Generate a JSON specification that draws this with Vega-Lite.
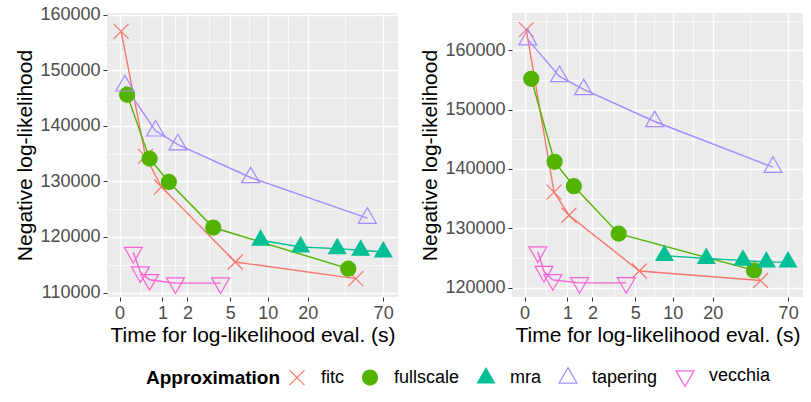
{
  "$schema": "https://vega.github.io/schema/vega-lite/v6.json",
  "background": "white",
  "padding": {"left": 14, "top": 5, "right": 5, "bottom": 5},
  "spacing": 21,
  "data": {"values": [
    {"p": "a", "a": "fitc", "t": 0.026, "y": 157000},
    {"p": "a", "a": "fitc", "t": 0.52, "y": 134500},
    {"p": "a", "a": "fitc", "t": 0.97, "y": 129000},
    {"p": "a", "a": "fitc", "t": 5.5, "y": 115500},
    {"p": "a", "a": "fitc", "t": 44.6, "y": 112500},
    {"p": "a", "a": "fullscale", "t": 0.13, "y": 145600},
    {"p": "a", "a": "fullscale", "t": 0.625, "y": 134100},
    {"p": "a", "a": "fullscale", "t": 1.22, "y": 129900},
    {"p": "a", "a": "fullscale", "t": 3.55, "y": 121700},
    {"p": "a", "a": "fullscale", "t": 39.4, "y": 114300},
    {"p": "a", "a": "mra", "t": 8.8, "y": 119400},
    {"p": "a", "a": "mra", "t": 17.7, "y": 118200},
    {"p": "a", "a": "mra", "t": 32.8, "y": 117900},
    {"p": "a", "a": "mra", "t": 48.4, "y": 117600},
    {"p": "a", "a": "mra", "t": 70.2, "y": 117300},
    {"p": "a", "a": "tapering", "t": 0.09, "y": 147200},
    {"p": "a", "a": "tapering", "t": 0.79, "y": 139100},
    {"p": "a", "a": "tapering", "t": 1.57, "y": 136600},
    {"p": "a", "a": "tapering", "t": 7.33, "y": 130700},
    {"p": "a", "a": "tapering", "t": 54, "y": 123400},
    {"p": "a", "a": "vecchia", "t": 0.25, "y": 117200},
    {"p": "a", "a": "vecchia", "t": 0.4, "y": 113700},
    {"p": "a", "a": "vecchia", "t": 0.625, "y": 112300},
    {"p": "a", "a": "vecchia", "t": 1.47, "y": 111700},
    {"p": "a", "a": "vecchia", "t": 4.12, "y": 111700},
    {"p": "b", "a": "fitc", "t": 0.028, "y": 163500},
    {"p": "b", "a": "fitc", "t": 0.61, "y": 136100},
    {"p": "b", "a": "fitc", "t": 1.05, "y": 132200},
    {"p": "b", "a": "fitc", "t": 5.4, "y": 122800},
    {"p": "b", "a": "fitc", "t": 44.5, "y": 121200},
    {"p": "b", "a": "fullscale", "t": 0.114, "y": 155200},
    {"p": "b", "a": "fullscale", "t": 0.625, "y": 141200},
    {"p": "b", "a": "fullscale", "t": 1.22, "y": 137100},
    {"p": "b", "a": "fullscale", "t": 3.58, "y": 129100},
    {"p": "b", "a": "fullscale", "t": 39.9, "y": 122900},
    {"p": "b", "a": "mra", "t": 8.6, "y": 125400},
    {"p": "b", "a": "mra", "t": 17.9, "y": 124900},
    {"p": "b", "a": "mra", "t": 33.2, "y": 124600},
    {"p": "b", "a": "mra", "t": 48.9, "y": 124300},
    {"p": "b", "a": "mra", "t": 69.9, "y": 124300},
    {"p": "b", "a": "tapering", "t": 0.055, "y": 161800},
    {"p": "b", "a": "tapering", "t": 0.76, "y": 155600},
    {"p": "b", "a": "tapering", "t": 1.6, "y": 153400},
    {"p": "b", "a": "tapering", "t": 7.2, "y": 148000},
    {"p": "b", "a": "tapering", "t": 54.6, "y": 140300},
    {"p": "b", "a": "vecchia", "t": 0.24, "y": 126000},
    {"p": "b", "a": "vecchia", "t": 0.37, "y": 122700},
    {"p": "b", "a": "vecchia", "t": 0.58, "y": 121300},
    {"p": "b", "a": "vecchia", "t": 1.435, "y": 120800},
    {"p": "b", "a": "vecchia", "t": 4.18, "y": 120800}
  ]},
  "hconcat": [
    {
      "width": 291, "height": 284,
      "transform": [{"filter": "datum.p === 'a'"}],
      "layer": [
        {
          "mark": {"type": "line", "strokeWidth": 1.4},
          "encoding": {
            "x": {"field": "t", "type": "quantitative",
              "scale": {"type": "symlog", "constant": 1, "domain": [-0.225, 89.3], "nice": false, "zero": false},
              "axis": {"orient": "top", "values": [0.414, 1.449, 3.243, 7.125, 14.2, 37.6], "grid": true, "gridWidth": 0.7, "labels": false, "ticks": false, "domain": false, "title": null}},
            "y": {"field": "y", "type": "quantitative",
              "scale": {"domain": [109200, 160300], "nice": false, "zero": false},
              "axis": {"orient": "right", "values": [115000, 125000, 135000, 145000, 155000], "grid": true, "gridWidth": 0.7, "labels": false, "ticks": false, "domain": false, "title": null}},
            "color": {"field": "a", "type": "nominal",
              "scale": {"domain": ["fitc", "fullscale", "mra", "tapering", "vecchia"], "range": ["#F8766D", "#53B400", "#00C094", "#A58AFF", "#FB61D7"]},
              "legend": {"title": "Approximation", "orient": "none", "legendX": 39, "legendY": 354, "direction": "horizontal", "titleOrient": "left"}}
          }
        },
        {
          "mark": {"type": "point", "filled": false, "opacity": 1, "strokeWidth": 1.2, "size": 225},
          "encoding": {
            "x": {"field": "t", "type": "quantitative",
              "scale": {"type": "symlog", "constant": 1, "domain": [-0.225, 89.3], "nice": false, "zero": false},
              "axis": {"values": [0, 1, 2, 5, 10, 20, 70], "format": "d", "grid": true, "title": "Time for log-likelihood eval. (s)", "titlePadding": 2}},
            "y": {"field": "y", "type": "quantitative",
              "scale": {"domain": [109200, 160300], "nice": false, "zero": false},
              "axis": {"values": [110000, 120000, 130000, 140000, 150000, 160000], "format": "d", "grid": true, "title": "Negative log-likelihood"}},
            "color": {"field": "a", "type": "nominal",
              "scale": {"domain": ["fitc", "fullscale", "mra", "tapering", "vecchia"], "range": ["#F8766D", "#53B400", "#00C094", "#A58AFF", "#FB61D7"]},
              "legend": {"title": "Approximation", "orient": "none", "legendX": 39, "legendY": 354, "direction": "horizontal", "titleOrient": "left"}},
            "shape": {"field": "a", "type": "nominal",
              "scale": {"domain": ["fitc", "fullscale", "mra", "tapering", "vecchia"], "range": ["M-1,-1L1,1M-1,1L1,-1", "M-1,0A1,1,0,1,1,1,0A1,1,0,1,1,-1,0Z", "M0,-1.309L1.133,0.654L-1.133,0.654Z", "M0,-1.386L1.2,0.693L-1.2,0.693Z", "M0,1.386L1.2,-0.693L-1.2,-0.693Z"]},
              "legend": {"title": "Approximation", "orient": "none", "legendX": 39, "legendY": 354, "direction": "horizontal", "titleOrient": "left"}},
            "fill": {"field": "a", "type": "nominal",
              "scale": {"domain": ["fitc", "fullscale", "mra", "tapering", "vecchia"], "range": ["transparent", "#53B400", "#00C094", "transparent", "transparent"]},
              "legend": null}
          }
        }
      ],
      "resolve": {"axis": {"x": "independent", "y": "independent"}}
    },
    {
      "width": 291, "height": 284,
      "transform": [{"filter": "datum.p === 'b'"}],
      "layer": [
        {
          "mark": {"type": "line", "strokeWidth": 1.4},
          "encoding": {
            "x": {"field": "t", "type": "quantitative",
              "scale": {"type": "symlog", "constant": 1, "domain": [-0.225, 89.3], "nice": false, "zero": false},
              "axis": {"orient": "top", "values": [0.414, 1.449, 3.243, 7.125, 14.2, 37.6], "grid": true, "gridWidth": 0.7, "labels": false, "ticks": false, "domain": false, "title": null}},
            "y": {"field": "y", "type": "quantitative",
              "scale": {"domain": [118420, 166290], "nice": false, "zero": false},
              "axis": {"orient": "right", "values": [125000, 135000, 145000, 155000, 165000], "grid": true, "gridWidth": 0.7, "labels": false, "ticks": false, "domain": false, "title": null}},
            "color": {"field": "a", "type": "nominal",
              "legend": {"title": "Approximation", "orient": "none", "legendX": 39, "legendY": 354, "direction": "horizontal", "titleOrient": "left"}}
          }
        },
        {
          "mark": {"type": "point", "filled": false, "opacity": 1, "strokeWidth": 1.2, "size": 225},
          "encoding": {
            "x": {"field": "t", "type": "quantitative",
              "scale": {"type": "symlog", "constant": 1, "domain": [-0.225, 89.3], "nice": false, "zero": false},
              "axis": {"values": [0, 1, 2, 5, 10, 20, 70], "format": "d", "grid": true, "title": "Time for log-likelihood eval. (s)", "titlePadding": 2}},
            "y": {"field": "y", "type": "quantitative",
              "scale": {"domain": [118420, 166290], "nice": false, "zero": false},
              "axis": {"values": [120000, 130000, 140000, 150000, 160000], "format": "d", "grid": true, "title": "Negative log-likelihood"}},
            "color": {"field": "a", "type": "nominal",
              "legend": {"title": "Approximation", "orient": "none", "legendX": 39, "legendY": 354, "direction": "horizontal", "titleOrient": "left"}},
            "shape": {"field": "a", "type": "nominal",
              "legend": {"title": "Approximation", "orient": "none", "legendX": 39, "legendY": 354, "direction": "horizontal", "titleOrient": "left"}},
            "fill": {"field": "a", "type": "nominal", "legend": null}
          }
        }
      ],
      "resolve": {"axis": {"x": "independent", "y": "independent"}}
    }
  ],
  "config": {
    "font": "Liberation Sans",
    "view": {"fill": "#EBEBEB", "stroke": null},
    "axis": {
      "domain": false, "gridColor": "#FFFFFF", "gridWidth": 1.4, "gridOpacity": 1,
      "tickColor": "#333333", "tickSize": 4, "tickWidth": 1,
      "labelColor": "#4D4D4D", "labelFontSize": 18, "labelFont": "Liberation Sans",
      "labelPadding": 3, "labelFlush": false, "labelOverlap": false,
      "titleFontSize": 21, "titleFontWeight": "normal", "titleColor": "#000000", "titleFont": "Liberation Sans", "titlePadding": 4
    },
    "legend": {
      "titleFontSize": 19, "titleFontWeight": "bold", "titleColor": "#000000", "titleFont": "Liberation Sans",
      "labelFontSize": 18, "labelColor": "#000000", "labelFont": "Liberation Sans",
      "symbolSize": 225, "labelOffset": 15, "columnPadding": 15, "titlePadding": 7,
      "symbolStrokeWidth": 1.2
    }
  }
}
